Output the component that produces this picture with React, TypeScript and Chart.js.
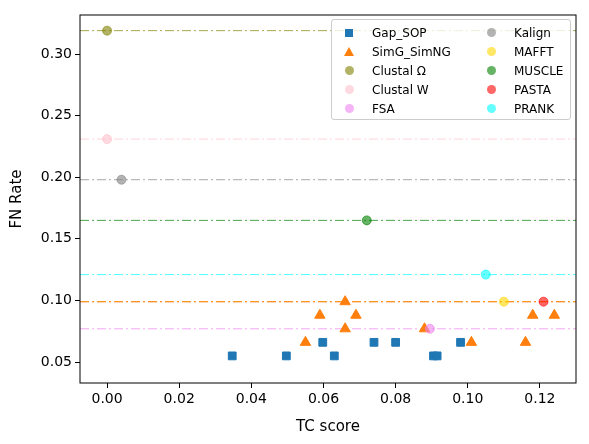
import React, { useEffect, useRef } from "react";
import Chart from "chart.js/auto";

const xTicks = [0, 0.02, 0.04, 0.06, 0.08, 0.1, 0.12];
const yTicks = [0.05, 0.1, 0.15, 0.2, 0.25, 0.3];

const gapSopX = [0.0347, 0.0497, 0.063, 0.0905, 0.0915, 0.0598, 0.074, 0.08, 0.098];
const gapSopY = [0.055, 0.055, 0.055, 0.055, 0.055, 0.066, 0.066, 0.066, 0.066];

const simgX = [0.055, 0.101, 0.116, 0.066, 0.088, 0.059, 0.069, 0.118, 0.124, 0.066];
const simgY = [0.066, 0.066, 0.066, 0.077, 0.077, 0.088, 0.088, 0.088, 0.088, 0.099];

const tools = ["Clustal Ω", "Clustal W", "FSA", "Kalign", "MAFFT", "MUSCLE", "PASTA", "PRANK"];
const toolX = [0, 0, 0.0895, 0.004, 0.11, 0.072, 0.121, 0.105];
const toolY = [0.319, 0.231, 0.077, 0.198, 0.099, 0.165, 0.099, 0.121];
const toolColors = ["#808000", "#ffc0cb", "#ee82ee", "#808080", "#ffd700", "#008000", "#ff0000", "#00ffff"];

const X_MIN = -0.0075;
const X_MAX = 0.13;

const alpha = (hex: string, a: number) => {
  const n = parseInt(hex.slice(1), 16);
  return `rgba(${(n >> 16) & 255},${(n >> 8) & 255},${n & 255},${a})`;
};

const legendItems = [
  { label: "Gap_SOP", color: "#1f77b4", shape: "square" },
  { label: "Kalign", color: alpha("#808080", 0.6), shape: "circle" },
  { label: "SimG_SimNG", color: "#ff7f0e", shape: "triangle" },
  { label: "MAFFT", color: alpha("#ffd700", 0.6), shape: "circle" },
  { label: "Clustal Ω", color: alpha("#808000", 0.6), shape: "circle" },
  { label: "MUSCLE", color: alpha("#008000", 0.6), shape: "circle" },
  { label: "Clustal W", color: alpha("#ffc0cb", 0.6), shape: "circle" },
  { label: "PASTA", color: alpha("#ff0000", 0.6), shape: "circle" },
  { label: "FSA", color: alpha("#ee82ee", 0.6), shape: "circle" },
  { label: "PRANK", color: alpha("#00ffff", 0.6), shape: "circle" },
];

const frame = {
  id: "frame",
  afterDraw(chart: any) {
    const { ctx, chartArea: a } = chart;
    ctx.save();
    ctx.strokeStyle = "#000";
    ctx.lineWidth = 1;
    ctx.strokeRect(a.left, a.top, a.right - a.left, a.bottom - a.top);
    ctx.restore();
  },
};

const Marker = ({ shape, color }: { shape: string; color: string }) => {
  if (shape === "square")
    return <span style={{ display: "inline-block", width: 8, height: 8, background: color }} />;
  if (shape === "triangle")
    return (
      <span
        style={{
          display: "inline-block",
          width: 0,
          height: 0,
          borderLeft: "5px solid transparent",
          borderRight: "5px solid transparent",
          borderBottom: `9px solid ${color}`,
        }}
      />
    );
  return <span style={{ display: "inline-block", width: 9, height: 9, borderRadius: "50%", background: color }} />;
};

const App = () => {
  const chartRef = useRef<HTMLCanvasElement>(null);
  const myChartRef = useRef<Chart | null>(null);

  useEffect(() => {
    document.body.style.margin = "0";
    const canvas = chartRef.current;
    if (myChartRef.current) myChartRef.current.destroy();
    if (!canvas) return;

    const refLines = tools.map((t, i) => ({
      type: "line" as const,
      label: "_line_" + t,
      data: [
        { x: X_MIN, y: toolY[i] },
        { x: X_MAX, y: toolY[i] },
      ],
      borderColor: alpha(toolColors[i], t === "PASTA" ? 0.9 : 0.7),
      borderWidth: 1,
      borderDash: [9, 3, 2, 3],
      pointRadius: 0,
      fill: false,
      order: 10,
    }));

    const toolSets = tools.map((t, i) => ({
      type: "scatter" as const,
      label: t,
      data: [{ x: toolX[i], y: toolY[i] }],
      backgroundColor: alpha(toolColors[i], 0.6),
      borderColor: alpha(toolColors[i], 0.6),
      pointRadius: 4.5,
      order: 1,
    }));

    myChartRef.current = new Chart(canvas, {
      type: "scatter",
      data: {
        datasets: [
          ...refLines,
          {
            type: "scatter",
            label: "Gap_SOP",
            data: gapSopX.map((x, i) => ({ x, y: gapSopY[i] })),
            backgroundColor: "#1f77b4",
            borderColor: "#1f77b4",
            pointStyle: "rect",
            pointRadius: 5.5,
            order: 2,
          },
          {
            type: "scatter",
            label: "SimG_SimNG",
            data: simgX.map((x, i) => ({ x, y: simgY[i] })),
            backgroundColor: "#ff7f0e",
            borderColor: "#ff7f0e",
            pointStyle: "triangle",
            pointRadius: 6,
            order: 2,
          },
          ...toolSets,
        ] as any,
      },
      options: {
        animation: false,
        responsive: false,
        layout: { padding: { top: 15, right: 13, left: 0, bottom: 0 } },
        plugins: { legend: { display: false }, tooltip: { enabled: false } },
        scales: {
          x: {
            type: "linear",
            min: X_MIN,
            max: X_MAX,
            afterBuildTicks: (axis: any) => {
              axis.ticks = xTicks.map((v) => ({ value: v }));
            },
            afterFit: (axis: any) => {
              axis.height = 61;
            },
            grid: { drawOnChartArea: false, tickLength: 5, color: "#000" },
            border: { display: false },
            ticks: {
              color: "#000",
              font: { family: "DejaVu Sans", size: 14 },
              callback: (v: any) => Number(v).toFixed(2),
              maxRotation: 0,
            },
            title: {
              display: true,
              text: "TC score",
              color: "#000",
              font: { family: "DejaVu Sans", size: 15 },
              padding: { top: 2, bottom: 8 },
            },
          },
          y: {
            min: 0.033,
            max: 0.3317,
            afterBuildTicks: (axis: any) => {
              axis.ticks = yTicks.map((v) => ({ value: v }));
            },
            afterFit: (axis: any) => {
              axis.width = 80;
            },
            grid: { drawOnChartArea: false, tickLength: 5, color: "#000" },
            border: { display: false },
            ticks: {
              color: "#000",
              font: { family: "DejaVu Sans", size: 14 },
              callback: (v: any) => Number(v).toFixed(2),
            },
            title: {
              display: true,
              text: "FN Rate",
              color: "#000",
              font: { family: "DejaVu Sans", size: 15 },
              padding: { top: 8, bottom: 2 },
            },
          },
        },
      },
      plugins: [frame],
    });

    return () => {
      if (myChartRef.current) myChartRef.current.destroy();
    };
  }, []);

  return (
    <div style={{ position: "relative", width: 589, height: 444 }}>
      <canvas ref={chartRef} width={589} height={444} />
      <div
        style={{
          position: "absolute",
          left: 331,
          top: 19,
          width: 240,
          height: 101,
          border: "1px solid #ccc",
          borderRadius: 3,
          background: "rgba(255,255,255,0.8)",
          boxSizing: "border-box",
          display: "grid",
          gridTemplateColumns: "142px 96px",
          gridAutoRows: "19px",
          padding: "3px 0 0 0",
          fontFamily: "DejaVu Sans",
          fontSize: 12,
        }}
      >
        {legendItems.map((it) => (
          <div key={it.label} style={{ display: "flex", alignItems: "center" }}>
            <span style={{ width: 34, display: "flex", justifyContent: "center" }}>
              <Marker shape={it.shape} color={it.color} />
            </span>
            <span style={{ marginLeft: 6 }}>{it.label}</span>
          </div>
        ))}
      </div>
    </div>
  );
};

export default App;
